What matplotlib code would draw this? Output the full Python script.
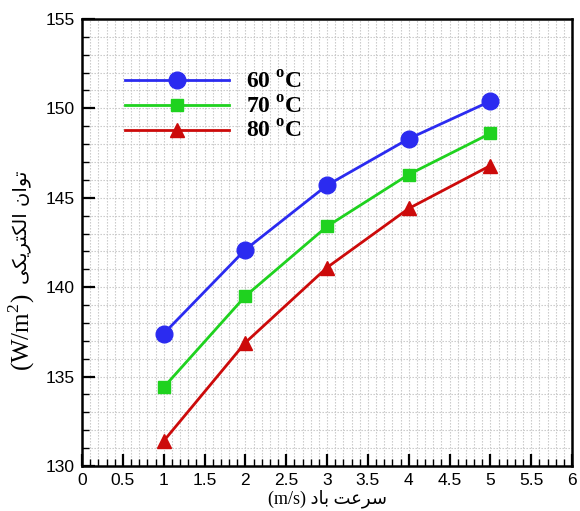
import matplotlib
matplotlib.use("Agg")
from matplotlib import pyplot as plt
from matplotlib.ticker import MultipleLocator

plt.rcParams['font.family'] = ['Liberation Sans', 'DejaVu Sans']
plt.rcParams['mathtext.fontset'] = 'custom'
plt.rcParams['mathtext.rm'] = 'Liberation Serif'
plt.rcParams['mathtext.bf'] = 'Liberation Serif:bold'

# wind speed (m/s)
speed = [1, 2, 3, 4, 5]
# electric power (W/m2) for each temperature
p60 = [137.4, 142.1, 145.7, 148.3, 150.4]
p70 = [134.4, 139.5, 143.4, 146.3, 148.6]
p80 = [131.4, 136.9, 141.1, 144.4, 146.8]
labels = [r'60 $^{\mathbf{o}}$C', r'70 $^{\mathbf{o}}$C', r'80 $^{\mathbf{o}}$C']

# persian labels written in visual order with presentation forms
xlab = "(m/s) " + "\uFEA9\uFE8E\uFE91" + " " + "\uFE96\uFECB\uFEAE\uFEB3"
ylab_fa = "\uFBFD\uFB91\uFBFE\uFEAE\uFE98\uFB91\uFEDF\uFE8D" + " " + "\uFEE5\uFE8D\uFEEE\uFE97"
ylab_unit = r"(W/m$^{2}$)"

fig = plt.figure(figsize=(5.8, 5.11), dpi=100)
ax = fig.add_axes([0.1414, 0.088, 0.845, 0.875])

ax.plot(speed, p60, color='#2b2bf0', lw=2, marker='o', ms=12, label=labels[0])
ax.plot(speed, p70, color='#1fd21f', lw=2, marker='s', ms=9, label=labels[1])
ax.plot(speed, p80, color='#cc0a0a', lw=2, marker='^', ms=10, label=labels[2])

ax.set_xlim(0, 6)
ax.set_ylim(130, 155)
ax.xaxis.set_major_locator(MultipleLocator(0.5))
ax.xaxis.set_minor_locator(MultipleLocator(0.1))
ax.yaxis.set_major_locator(MultipleLocator(5))
ax.yaxis.set_minor_locator(MultipleLocator(1))
ax.xaxis.set_major_formatter(plt.FuncFormatter(lambda v, p: '%g' % v))

ax.tick_params(which='major', direction='in', length=9, width=1.6, labelsize=12.5, pad=5)
ax.tick_params(which='minor', direction='in', length=5, width=1)
ax.grid(which='both', color='#c4c4c4', linestyle=(0, (1.2, 1.5)), linewidth=0.8)
ax.set_axisbelow(True)
for s in ax.spines.values():
    s.set_linewidth(1.8)

ax.set_xlabel(xlab, family=['Liberation Serif', 'DejaVu Sans'], fontsize=13, labelpad=1)
ax.text(-0.122, 0.30, ylab_unit, transform=ax.transAxes, rotation=90,
        ha='center', va='center', family='Liberation Serif', fontsize=18)
ax.text(-0.122, 0.535, ylab_fa, transform=ax.transAxes, rotation=90,
        ha='center', va='center', family='DejaVu Sans', fontsize=14)

leg = ax.legend(loc='upper left', bbox_to_anchor=(0.088, 0.883), frameon=False,
                borderaxespad=0, borderpad=0,
                handlelength=4.4, handletextpad=0.7, labelspacing=0.12,
                prop={'family': 'Liberation Serif', 'weight': 'bold', 'size': 17})

plt.savefig("out.png", dpi=100)
